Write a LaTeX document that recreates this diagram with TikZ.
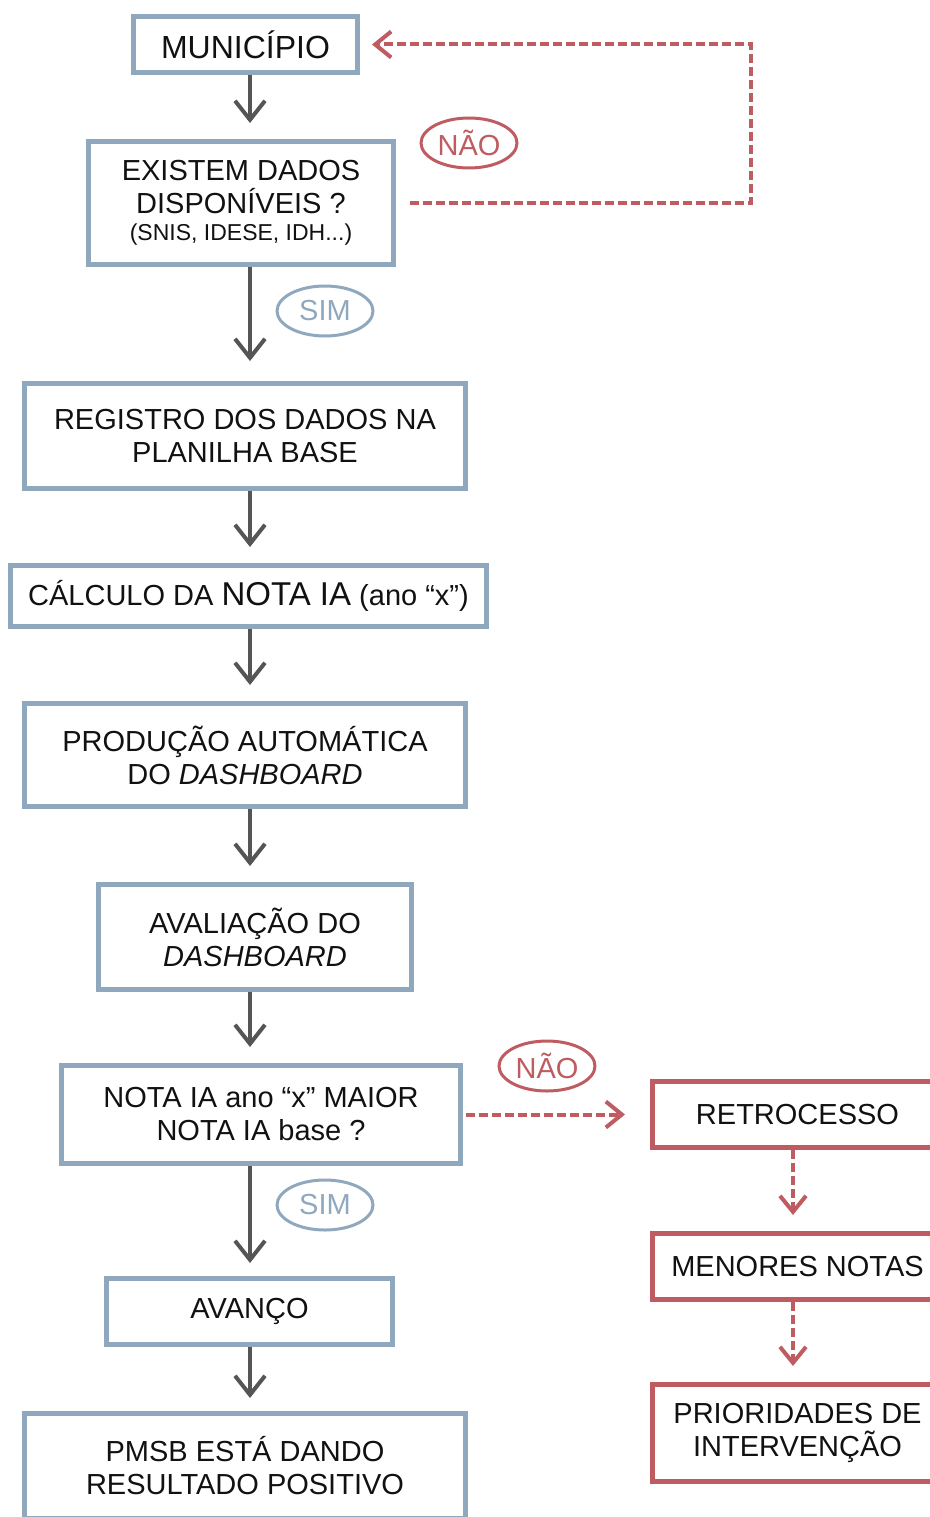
\documentclass[tikz,border=0pt]{standalone}
\usepackage{fontspec}
\setmainfont{Liberation Sans}
\usetikzlibrary{arrows.meta,shapes.geometric}

\definecolor{boxblue}{RGB}{143,168,190}
\definecolor{boxred}{RGB}{191,92,97}
\definecolor{arrgray}{RGB}{85,85,85}
\definecolor{txt}{RGB}{17,17,17}

\newcommand{\bodyfont}{\fontsize{29}{33}\selectfont}
\newcommand{\smallnote}{\fontsize{23}{29}\selectfont}
\newcommand{\bignote}{\fontsize{33}{33}\selectfont}

\begin{document}
\begin{tikzpicture}[x=1pt, y=-1pt,
    stage/.style={rectangle, draw=boxblue, line width=5pt, inner sep=0pt,
      align=center, text=txt, font=\bodyfont},
    alert/.style={stage, draw=boxred},
    tag/.style={ellipse, draw, line width=3pt, inner sep=0pt,
      minimum width=96pt, minimum height=50pt, font=\bodyfont},
    flow/.style={draw=arrgray, line width=4pt, shorten >=16pt,
      -{Straight Barb[length=19pt,width=30pt]}},
    back/.style={draw=boxred, line width=4pt, dash pattern=on 9pt off 4pt,
      -{Straight Barb[length=16pt,width=26pt]}}]
    \useasboundingbox (0,0) rectangle (929,1517);

    % main column
    \node[stage, minimum width=224pt, minimum height=56pt] (muni) at (245.5,44.5) {\fontsize{32}{33}\selectfont MUNICÍPIO};
    \node[stage, minimum width=305pt, minimum height=123pt] (exist) at (241,203)
      {EXISTEM DADOS\\ DISPONÍVEIS ?\\[-6pt] {\smallnote (SNIS, IDESE, IDH...)}};
    \node[stage, minimum width=441pt, minimum height=105pt] (regist) at (245,436)
      {REGISTRO DOS DADOS NA\\ PLANILHA BASE};
    \node[stage, minimum width=476pt, minimum height=61pt] (calc) at (248.5,596)
      {CÁLCULO DA {\bignote NOTA IA} (ano “x”)};
    \node[stage, minimum width=441pt, minimum height=103pt] (prod) at (245,755)
      {PRODUÇÃO AUTOMÁTICA\\ DO \textit{DASHBOARD}};
    \node[stage, minimum width=313pt, minimum height=105pt] (aval) at (255,937)
      {AVALIAÇÃO DO\\ \textit{DASHBOARD}};
    \node[stage, minimum width=399pt, minimum height=98pt] (nota) at (261,1114.5)
      {NOTA IA ano “x” MAIOR\\ NOTA IA base ?};
    \node[stage, minimum width=286pt, minimum height=66pt] (avanco) at (249.5,1311.5) {AVANÇO};
    \node[stage, minimum width=441pt, minimum height=105pt] (pmsb) at (245,1466)
      {PMSB ESTÁ DANDO\\ RESULTADO POSITIVO};

    % right column
    \node[alert, minimum width=290pt, minimum height=66pt] (retro) at (797.5,1114.5) {RETROCESSO};
    \node[alert, minimum width=290pt, minimum height=66pt] (menores) at (797.5,1266.5) {MENORES NOTAS};
    \node[alert, minimum width=290pt, minimum height=97pt] (prior) at (797.5,1433)
      {PRIORIDADES DE\\ INTERVENÇÃO};

    % answers
    \node[tag, draw=boxred, text=boxred] (nao1) at (469,143) {NÃO};
    \node[tag, draw=boxblue, text=boxblue] (sim1) at (325,311) {SIM};
    \node[tag, draw=boxred, text=boxred] (nao2) at (547,1066) {NÃO};
    \node[tag, draw=boxblue, text=boxblue] (sim2) at (325,1205) {SIM};

    \coordinate (col) at (250,0);
    \coordinate (rcol) at (793,0);
    \coordinate (loop) at (751,0);

    \draw[flow] (muni.south -| col) -- (exist.north -| col);
    \draw[flow, shorten >=20pt] (exist.south -| col) -- (regist.north -| col);
    \draw[flow] (regist.south -| col) -- (calc.north -| col);
    \draw[flow] (calc.south -| col) -- (prod.north -| col);
    \draw[flow] (prod.south -| col) -- (aval.north -| col);
    \draw[flow] (aval.south -| col) -- (nota.north -| col);
    \draw[flow, shorten >=13pt] (nota.south -| col) -- (avanco.north -| col);
    \draw[flow, shorten >=13pt] (avanco.south -| col) -- (pmsb.north -| col);

    \draw[back, shorten <=14pt, shorten >=12pt] (exist.east) -| (loop |- muni.east) -- (muni.east);
    \draw[back, shorten <=3pt, shorten >=25pt] (nota.east) -- (retro.west);
    \draw[back, shorten >=16pt] (retro.south -| rcol) -- (menores.north -| rcol);
    \draw[back, shorten >=16pt] (menores.south -| rcol) -- (prior.north -| rcol);
\end{tikzpicture}
\end{document}
